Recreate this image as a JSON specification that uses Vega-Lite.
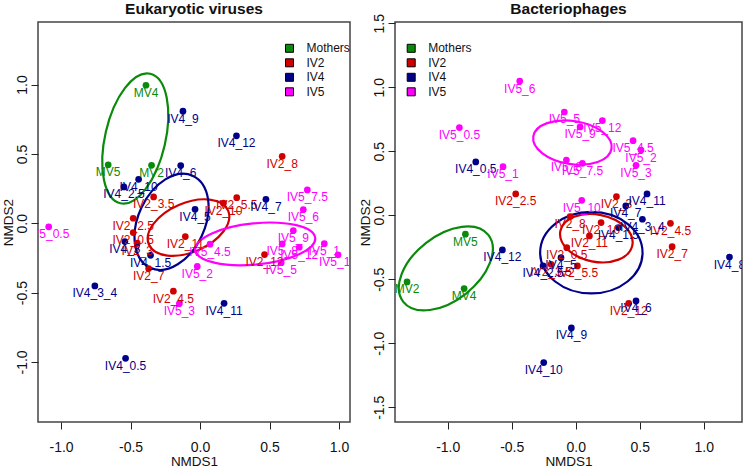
{
"$schema": "https://vega.github.io/schema/vega-lite/v6.json",
"padding": {"left": 0, "top": 0, "right": 0, "bottom": 0},
"background": "white",
"config": {
  "font": "Liberation Sans",
  "view": {"stroke": "#444444", "strokeWidth": 1.5},
  "axis": {"domain": false, "grid": false, "tickColor": "#222222", "tickSize": 7, "tickWidth": 1, "labelFontSize": 14, "labelColor": "#111111", "labelFlush": false, "labelOverlap": false, "titleFontSize": 13.5, "titleFontWeight": "normal", "titleColor": "#111111"},
  "axisX": {"labelPadding": 11, "titlePadding": 0},
  "axisY": {"labelAngle": -90, "labelAlign": "center", "labelBaseline": "bottom", "labelPadding": 2, "titlePadding": 0},
  "legend": {"orient": "none", "symbolType": "square", "symbolSize": 64, "symbolStrokeColor": "black", "symbolStrokeWidth": 1, "labelFontSize": 12, "labelColor": "#111111", "labelOffset": 11, "rowPadding": 2.5, "padding": 0, "title": null},
  "title": {"fontSize": 15.5, "fontWeight": "bold", "anchor": "middle", "frame": "group", "baseline": "alphabetic", "color": "#111111"}
},
"datasets": {
  "pts": [
    {"panel": "E", "group": "Mothers", "label": "MV4", "x": -0.389, "y": 0.995},
    {"panel": "E", "group": "Mothers", "label": "MV5", "x": -0.661, "y": 0.421},
    {"panel": "E", "group": "Mothers", "label": "MV2", "x": -0.349, "y": 0.418},
    {"panel": "E", "group": "IV2", "label": "IV2_8", "x": 0.591, "y": 0.483},
    {"panel": "E", "group": "IV2", "label": "IV2_3.5", "x": -0.334, "y": 0.19},
    {"panel": "E", "group": "IV2", "label": "IV2_5.5", "x": 0.264, "y": 0.184},
    {"panel": "E", "group": "IV2", "label": "IV2_10", "x": 0.168, "y": 0.145},
    {"panel": "E", "group": "IV2", "label": "IV2_2.5", "x": -0.481, "y": 0.036},
    {"panel": "E", "group": "IV2", "label": "IV2_0.5", "x": -0.481, "y": -0.067},
    {"panel": "E", "group": "IV2", "label": "IV2_3", "x": -0.452, "y": -0.144},
    {"panel": "E", "group": "IV2", "label": "IV2_7", "x": -0.37, "y": -0.327},
    {"panel": "E", "group": "IV2", "label": "IV2_4.5", "x": -0.192, "y": -0.49},
    {"panel": "E", "group": "IV2", "label": "IV2_11", "x": -0.106, "y": -0.096},
    {"panel": "E", "group": "IV2", "label": "IV2_12", "x": 0.464, "y": -0.226},
    {"panel": "E", "group": "IV4", "label": "IV4_9", "x": -0.123, "y": 0.808},
    {"panel": "E", "group": "IV4", "label": "IV4_12", "x": 0.262, "y": 0.63},
    {"panel": "E", "group": "IV4", "label": "IV4_6", "x": -0.139, "y": 0.416},
    {"panel": "E", "group": "IV4", "label": "IV4_10", "x": -0.442, "y": 0.317},
    {"panel": "E", "group": "IV4", "label": "IV4_2.5", "x": -0.548, "y": 0.262},
    {"panel": "E", "group": "IV4", "label": "IV4_5", "x": -0.036, "y": 0.101},
    {"panel": "E", "group": "IV4", "label": "IV4_7", "x": 0.474, "y": 0.173},
    {"panel": "E", "group": "IV4", "label": "IV4_3", "x": -0.541, "y": -0.132},
    {"panel": "E", "group": "IV4", "label": "IV4_1.5", "x": -0.356, "y": -0.231},
    {"panel": "E", "group": "IV4", "label": "IV4_3_4", "x": -0.757, "y": -0.452},
    {"panel": "E", "group": "IV4", "label": "IV4_11", "x": 0.173, "y": -0.577},
    {"panel": "E", "group": "IV4", "label": "IV4_0.5", "x": -0.536, "y": -0.974},
    {"panel": "E", "group": "IV5", "label": "IV5_0.5", "x": -1.089, "y": -0.026},
    {"panel": "E", "group": "IV5", "label": "IV5_7.5", "x": 0.772, "y": 0.24},
    {"panel": "E", "group": "IV5", "label": "IV5_6", "x": 0.743, "y": 0.099},
    {"panel": "E", "group": "IV5", "label": "IV5_9", "x": 0.671, "y": -0.053},
    {"panel": "E", "group": "IV5", "label": "IV5_8", "x": 0.591, "y": -0.149},
    {"panel": "E", "group": "IV5", "label": "IV5_12", "x": 0.714, "y": -0.173},
    {"panel": "E", "group": "IV5", "label": "IV5_1", "x": 0.894, "y": -0.147},
    {"panel": "E", "group": "IV5", "label": "IV5_10", "x": 0.993, "y": -0.228},
    {"panel": "E", "group": "IV5", "label": "IV5_5", "x": 0.584, "y": -0.284},
    {"panel": "E", "group": "IV5", "label": "IV5_4.5", "x": 0.072, "y": -0.151},
    {"panel": "E", "group": "IV5", "label": "IV5_2", "x": -0.02, "y": -0.311},
    {"panel": "E", "group": "IV5", "label": "IV5_3", "x": -0.149, "y": -0.579},
    {"panel": "B", "group": "Mothers", "label": "MV5", "x": -0.862, "y": -0.148},
    {"panel": "B", "group": "Mothers", "label": "MV2", "x": -1.318, "y": -0.521},
    {"panel": "B", "group": "Mothers", "label": "MV4", "x": -0.872, "y": -0.573},
    {"panel": "B", "group": "IV2", "label": "IV2_2.5", "x": -0.469, "y": 0.167},
    {"panel": "B", "group": "IV2", "label": "IV2_3", "x": 0.318, "y": 0.146},
    {"panel": "B", "group": "IV2", "label": "IV2_8", "x": -0.044, "y": -0.01},
    {"panel": "B", "group": "IV2", "label": "IV2_10", "x": 0.198, "y": -0.057},
    {"panel": "B", "group": "IV2", "label": "IV2_11", "x": 0.107, "y": -0.161},
    {"panel": "B", "group": "IV2", "label": "IV2_0.5", "x": -0.07, "y": -0.253},
    {"panel": "B", "group": "IV2", "label": "IV2_5.5", "x": 0.013, "y": -0.396},
    {"panel": "B", "group": "IV2", "label": "IV2_3.5", "x": -0.193, "y": -0.383},
    {"panel": "B", "group": "IV2", "label": "IV2_4.5", "x": 0.74, "y": -0.063},
    {"panel": "B", "group": "IV2", "label": "IV2_7", "x": 0.753, "y": -0.245},
    {"panel": "B", "group": "IV2", "label": "IV2_12", "x": 0.414, "y": -0.688},
    {"panel": "B", "group": "IV4", "label": "IV4_0.5", "x": -0.781, "y": 0.417},
    {"panel": "B", "group": "IV4", "label": "IV4_11", "x": 0.557, "y": 0.167},
    {"panel": "B", "group": "IV4", "label": "IV4_7", "x": 0.391, "y": 0.073},
    {"panel": "B", "group": "IV4", "label": "IV4_3_4", "x": 0.521, "y": -0.031},
    {"panel": "B", "group": "IV4", "label": "IV4_1.5", "x": 0.333, "y": -0.096},
    {"panel": "B", "group": "IV4", "label": "IV4_12", "x": -0.573, "y": -0.271},
    {"panel": "B", "group": "IV4", "label": "IV4_5", "x": -0.115, "y": -0.331},
    {"panel": "B", "group": "IV4", "label": "IV4_2.5", "x": -0.255, "y": -0.396},
    {"panel": "B", "group": "IV4", "label": "IV4_8", "x": 1.201, "y": -0.326},
    {"panel": "B", "group": "IV4", "label": "IV4_6", "x": 0.471, "y": -0.669},
    {"panel": "B", "group": "IV4", "label": "IV4_9", "x": -0.034, "y": -0.88},
    {"panel": "B", "group": "IV4", "label": "IV4_10", "x": -0.25, "y": -1.151},
    {"panel": "B", "group": "IV5", "label": "IV5_6", "x": -0.4375, "y": 1.049},
    {"panel": "B", "group": "IV5", "label": "IV5_0.5", "x": -0.909, "y": 0.685},
    {"panel": "B", "group": "IV5", "label": "IV5_1", "x": -0.568, "y": 0.38},
    {"panel": "B", "group": "IV5", "label": "IV5_5", "x": -0.089, "y": 0.807},
    {"panel": "B", "group": "IV5", "label": "IV5_12", "x": 0.208, "y": 0.74},
    {"panel": "B", "group": "IV5", "label": "IV5_9", "x": 0.034, "y": 0.69},
    {"panel": "B", "group": "IV5", "label": "IV5_4.5", "x": 0.448, "y": 0.583},
    {"panel": "B", "group": "IV5", "label": "IV5_2", "x": 0.51, "y": 0.51},
    {"panel": "B", "group": "IV5", "label": "IV5_3", "x": 0.471, "y": 0.391},
    {"panel": "B", "group": "IV5", "label": "IV5_7.5", "x": 0.052, "y": 0.406},
    {"panel": "B", "group": "IV5", "label": "IV5_8", "x": -0.073, "y": 0.432},
    {"panel": "B", "group": "IV5", "label": "IV5_10", "x": 0.047, "y": 0.117}
  ],
  "ell": [
    {"panel": "E", "group": "Mothers", "x": -0.466, "y": 0.611},
    {"panel": "E", "group": "IV2", "x": -0.083, "y": -0.031},
    {"panel": "E", "group": "IV4", "x": -0.205, "y": 0.01},
    {"panel": "E", "group": "IV5", "x": 0.397, "y": -0.149},
    {"panel": "B", "group": "Mothers", "x": -1.015, "y": -0.415},
    {"panel": "B", "group": "IV2", "x": 0.161, "y": -0.179},
    {"panel": "B", "group": "IV4", "x": 0.122, "y": -0.292},
    {"panel": "B", "group": "IV5", "x": -0.026, "y": 0.568}
  ]
},
"spacing": 5,
"resolve": {"legend": {"color": "independent"}},
"hconcat": [
  {
    "width": 312, "height": 400,
    "title": {"text": "Eukaryotic viruses", "offset": 4.5},
    "encoding": {
      "x": {"field": "x", "type": "quantitative", "scale": {"domain": [-1.166, 1.079], "nice": false, "zero": false}, "axis": {"values": [-1, -0.5, 0, 0.5, 1], "title": "NMDS1", "labelExpr": "replace(format(datum.value, '.1f'), '\u2212', '-')"}},
      "y": {"field": "y", "type": "quantitative", "scale": {"domain": [-1.433, 1.451], "nice": false, "zero": false}, "axis": {"values": [-1, -0.5, 0, 0.5, 1], "title": "NMDS2", "labelExpr": "replace(format(datum.value, '.1f'), '\u2212', '-')"}}
    },
    "layer": [
      {"data": {"name": "ell"}, "transform": [{"filter": "datum.panel == 'E' && datum.group == 'Mothers'"}],
       "mark": {"type": "point", "shape": "M0,-1 C0.251,-1 0.454,-0.5523 0.454,0 C0.454,0.5523 0.251,1 0,1 C-0.251,1 -0.454,0.5523 -0.454,0 C-0.454,-0.5523 -0.251,-1 0,-1 Z", "size": 17689, "angle": 13, "filled": false, "color": "#0A8A0A", "strokeWidth": 2.2, "opacity": 1}},
      {"data": {"name": "ell"}, "transform": [{"filter": "datum.panel == 'E' && datum.group == 'IV2'"}],
       "mark": {"type": "point", "shape": "M0,-1 C0.315,-1 0.571,-0.5523 0.571,0 C0.571,0.5523 0.315,1 0,1 C-0.315,1 -0.571,0.5523 -0.571,0 C-0.571,-0.5523 -0.315,-1 0,-1 Z", "size": 7430, "angle": 66.8, "filled": false, "color": "#D00000", "strokeWidth": 2.2, "opacity": 1}},
      {"data": {"name": "ell"}, "transform": [{"filter": "datum.panel == 'E' && datum.group == 'IV4'"}],
       "mark": {"type": "point", "shape": "M0,-1 C0.363,-1 0.657,-0.5523 0.657,0 C0.657,0.5523 0.363,1 0,1 C-0.363,1 -0.657,0.5523 -0.657,0 C-0.657,-0.5523 -0.363,-1 0,-1 Z", "size": 10282, "angle": 25, "filled": false, "color": "#00008B", "strokeWidth": 2.2, "opacity": 1}},
      {"data": {"name": "ell"}, "transform": [{"filter": "datum.panel == 'E' && datum.group == 'IV5'"}],
       "mark": {"type": "point", "shape": "M0,-1 C0.189,-1 0.342,-0.5523 0.342,0 C0.342,0.5523 0.189,1 0,1 C-0.189,1 -0.342,0.5523 -0.342,0 C-0.342,-0.5523 -0.189,-1 0,-1 Z", "size": 14544, "angle": 84.3, "filled": false, "color": "#FF00FF", "strokeWidth": 2.2, "opacity": 1}},
      {"data": {"name": "pts"}, "transform": [{"filter": "datum.panel == 'E'"}],
       "mark": {"type": "point", "shape": "circle", "filled": true, "size": 45, "opacity": 1, "clip": true},
       "encoding": {"color": {"field": "group", "type": "nominal", "scale": {"domain": ["Mothers", "IV2", "IV4", "IV5"], "range": ["#0A8A0A", "#D00000", "#00008B", "#FF00FF"]},
         "legend": {"legendX": 245.5, "legendY": 20.3, "encode": {"symbols": {"update": {"stroke": {"value": "black"}, "strokeWidth": {"value": 1}}}}}}}},
      {"data": {"name": "pts"}, "transform": [{"filter": "datum.panel == 'E'"}],
       "mark": {"type": "text", "dy": 7.5, "fontSize": 12, "baseline": "middle", "align": "center", "clip": true},
       "encoding": {"text": {"field": "label"}, "color": {"field": "group", "type": "nominal", "legend": null}}}
    ]
  },
  {
    "width": 347, "height": 400,
    "title": {"text": "Bacteriophages", "offset": -3.5},
    "encoding": {
      "x": {"field": "x", "type": "quantitative", "scale": {"domain": [-1.412, 1.299], "nice": false, "zero": false}, "axis": {"values": [-1, -0.5, 0, 0.5, 1], "title": "NMDS1", "labelExpr": "replace(format(datum.value, '.1f'), '\u2212', '-')"}},
      "y": {"field": "y", "type": "quantitative", "scale": {"domain": [-1.615, 1.51], "nice": false, "zero": false}, "axis": {"values": [-1.5, -1, -0.5, 0, 0.5, 1, 1.5], "title": "NMDS2", "labelExpr": "replace(format(datum.value, '.1f'), '\u2212', '-')"}}
    },
    "layer": [
      {"data": {"name": "ell"}, "transform": [{"filter": "datum.panel == 'B' && datum.group == 'Mothers'"}],
       "mark": {"type": "point", "shape": "M0,-1 C0.330,-1 0.597,-0.5523 0.597,0 C0.597,0.5523 0.330,1 0,1 C-0.330,1 -0.597,0.5523 -0.597,0 C-0.597,-0.5523 -0.330,-1 0,-1 Z", "size": 11707, "angle": 51.8, "filled": false, "color": "#0A8A0A", "strokeWidth": 2.2, "opacity": 1}},
      {"data": {"name": "ell"}, "transform": [{"filter": "datum.panel == 'B' && datum.group == 'IV2'"}],
       "mark": {"type": "point", "shape": "M0,-1 C0.355,-1 0.643,-0.5523 0.643,0 C0.643,0.5523 0.355,1 0,1 C-0.355,1 -0.643,0.5523 -0.643,0 C-0.643,-0.5523 -0.355,-1 0,-1 Z", "size": 5388, "angle": 101.3, "filled": false, "color": "#D00000", "strokeWidth": 2.2, "opacity": 1}},
      {"data": {"name": "ell"}, "transform": [{"filter": "datum.panel == 'B' && datum.group == 'IV4'"}],
       "mark": {"type": "point", "shape": "M0,-1 C0.440,-1 0.797,-0.5523 0.797,0 C0.797,0.5523 0.440,1 0,1 C-0.440,1 -0.797,0.5523 -0.797,0 C-0.797,-0.5523 -0.440,-1 0,-1 Z", "size": 10486, "angle": 90, "filled": false, "color": "#00008B", "strokeWidth": 2.2, "opacity": 1}},
      {"data": {"name": "ell"}, "transform": [{"filter": "datum.panel == 'B' && datum.group == 'IV5'"}],
       "mark": {"type": "point", "shape": "M0,-1 C0.301,-1 0.545,-0.5523 0.545,0 C0.545,0.5523 0.301,1 0,1 C-0.301,1 -0.545,0.5523 -0.545,0 C-0.545,-0.5523 -0.301,-1 0,-1 Z", "size": 6273, "angle": 99, "filled": false, "color": "#FF00FF", "strokeWidth": 2.2, "opacity": 1}},
      {"data": {"name": "pts"}, "transform": [{"filter": "datum.panel == 'B'"}],
       "mark": {"type": "point", "shape": "circle", "filled": true, "size": 45, "opacity": 1, "clip": true},
       "encoding": {"color": {"field": "group", "type": "nominal", "scale": {"domain": ["Mothers", "IV2", "IV4", "IV5"], "range": ["#0A8A0A", "#D00000", "#00008B", "#FF00FF"]},
         "legend": {"legendX": 10.2, "legendY": 20.3, "encode": {"symbols": {"update": {"stroke": {"value": "black"}, "strokeWidth": {"value": 1}}}}}}}},
      {"data": {"name": "pts"}, "transform": [{"filter": "datum.panel == 'B'"}],
       "mark": {"type": "text", "dy": 7.5, "fontSize": 12, "baseline": "middle", "align": "center", "clip": true},
       "encoding": {"text": {"field": "label"}, "color": {"field": "group", "type": "nominal", "legend": null}}}
    ]
  }
]
}
